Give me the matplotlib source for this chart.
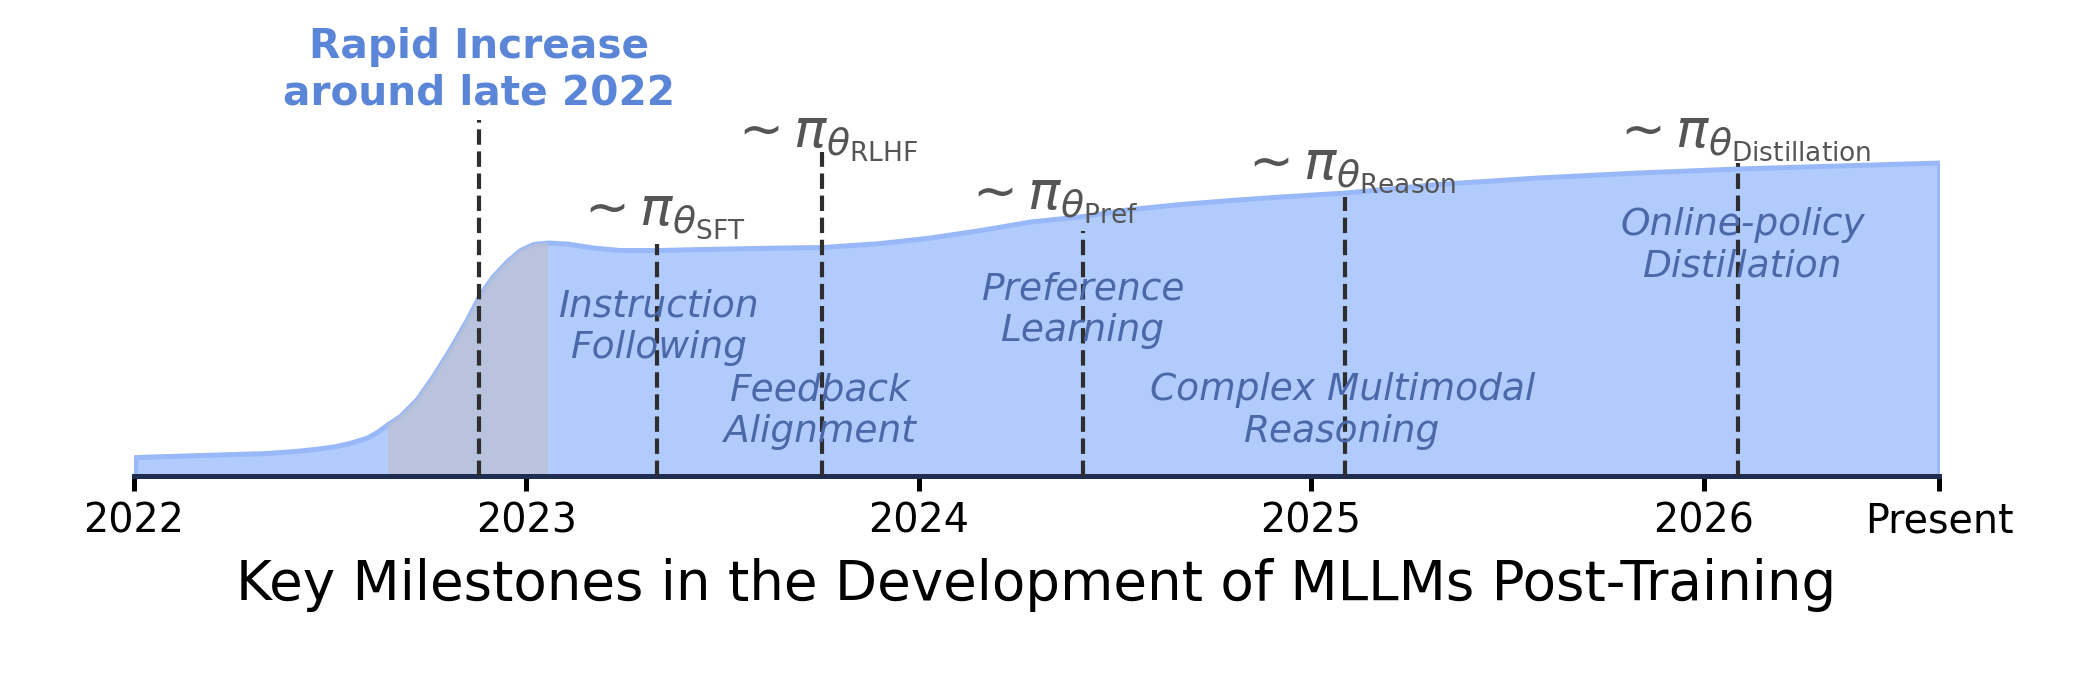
import numpy as np
import matplotlib.pyplot as plt

# curve (year, height)
curve_x = [2022.004, 2022.169, 2022.340, 2022.424, 2022.470, 2022.508, 2022.550, 2022.595,
           2022.620, 2022.648, 2022.679, 2022.722, 2022.763, 2022.806, 2022.850, 2022.883,
           2022.916, 2022.952, 2022.985, 2023.018, 2023.056, 2023.104, 2023.171, 2023.239,
           2023.336, 2023.443, 2023.647, 2023.754, 2023.902, 2024.029, 2024.157, 2024.284,
           2024.419, 2024.539, 2024.666, 2024.794, 2024.921, 2025.087, 2025.321, 2025.576,
           2025.831, 2026.085, 2026.169, 2026.600]
curve_y = [19, 21, 23, 25.5, 27.5, 29.5, 33, 38.5,
           44, 52, 60, 77, 100, 127, 157, 182,
           200, 215, 226, 232, 233.5, 232.5, 228.5, 226,
           226, 227, 228.5, 229, 233, 238.5, 246, 254.5,
           260, 267, 272, 276, 279.5, 283.5, 292, 298.5,
           303.5, 307.5, 308.5, 313.5]

rapid_span = (2022.648, 2023.056)

# milestones
ms_x = [2023.334, 2023.754, 2024.419, 2025.087, 2026.088]
ms_top = [232, 324, 245, 279, 313]
ms_sub = ['SFT', 'RLHF', 'Pref', 'Reason', 'Distillation']
lab_x = [2023.340, 2023.755, 2024.335, 2025.092, 2026.095]
lab_y = [234, 312, 251, 281, 313]

stage_text = ['Instruction\nFollowing', 'Feedback\nAlignment', 'Preference\nLearning',
              'Complex Multimodal\nReasoning', 'Online-policy\nDistillation']
stage_x = [2023.34, 2023.75, 2024.42, 2025.08, 2026.10]
stage_y = [149, 65, 166, 65, 230]

rapid_x = 2022.88
rapid_top = 356

tick_pos = [2022, 2023, 2024, 2025, 2026, 2026.6]
tick_lab = ['2022', '2023', '2024', '2025', '2026', 'Present']

fig = plt.figure(figsize=(14, 4.6), dpi=150)
ax = fig.add_axes([0.0636, 0.3101, 0.8598, 400 / 690])

cx = np.array(curve_x)
cy = np.array(curve_y)
ax.fill_between(cx, 0, cy, facecolor='#b0cbfc', edgecolor='#98b8f9', linewidth=2.4, zorder=1)
m = (cx >= rapid_span[0]) & (cx <= rapid_span[1])
ax.fill_between(cx[m], 0, cy[m], facecolor='#bdc1d0', edgecolor='none', alpha=0.7, zorder=2)

for x, t in zip(ms_x, ms_top):
    ax.plot([x, x], [0, t], ls='--', lw=2, color='#2e2e2e', zorder=3)
ax.plot([rapid_x, rapid_x], [0, rapid_top], ls='--', lw=2, color='#2e2e2e', zorder=3)

for x, y, s in zip(lab_x, lab_y, ms_sub):
    ax.text(x, y, r'$\sim \pi_{\theta_{\mathrm{%s}}}$' % s, ha='center', va='bottom',
            fontsize=25.8, color='#555555', zorder=4)

for x, y, s in zip(stage_x, stage_y, stage_text):
    ax.text(x, y, s, ha='center', va='center', fontsize=18, style='italic',
            color='#4b68a8', zorder=4)

ax.text(rapid_x, 406, 'Rapid Increase\naround late 2022', ha='center', va='center',
        fontsize=19.5, fontweight='bold', color='#5b86d8', clip_on=False)

ax.set_xlim(2022, 2026.6)
ax.set_ylim(0, 400)
for s in ['left', 'right', 'top']:
    ax.spines[s].set_visible(False)
ax.spines['bottom'].set_color('#1f2d50')
ax.spines['bottom'].set_linewidth(2.4)
ax.set_yticks([])
ax.set_xticks(tick_pos)
ax.set_xticklabels(tick_lab, fontsize=19)
ax.tick_params(axis='x', length=7, width=2.4, color='black', pad=5)
ax.set_xlabel('Key Milestones in the Development of MLLMs Post-Training', fontsize=26.3, labelpad=8)

fig.savefig('out.png', dpi=150)
